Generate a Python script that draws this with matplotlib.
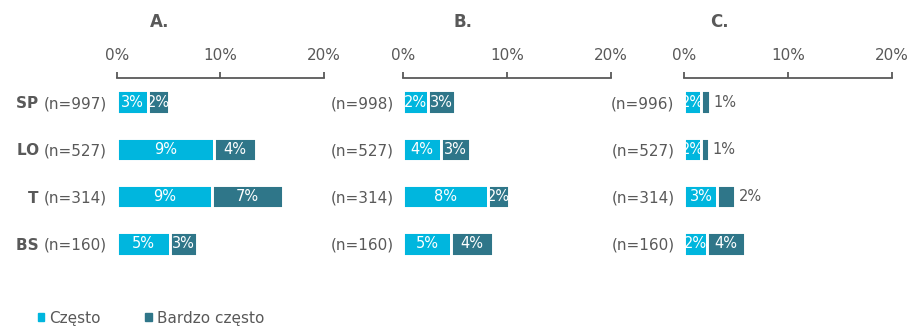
import matplotlib
matplotlib.use("Agg")

import matplotlib.pyplot as plt
from matplotlib.patches import Patch

# ── Data ─────────────────────────────────────────────────────────────────────
GROUPS   = ["SP", "LO", "T", "BS"]
PANELS   = ["A.", "B.", "C."]
N_A      = [997, 527, 314, 160]
N_B      = [998, 527, 314, 160]
N_C      = [996, 527, 314, 160]
OFTEN_A  = [3.0, 9.4, 9.2, 5.1]      # "Często"
OFTEN_B  = [2.4, 3.6, 8.2, 4.6]
OFTEN_C  = [1.6, 1.6, 3.2, 2.2]
VOFTEN_A = [2.0, 4.0, 6.8, 2.6]      # "Bardzo często"
VOFTEN_B = [2.6, 2.8, 2.0, 4.1]
VOFTEN_C = [0.9, 0.8, 1.7, 3.7]
XTICKS   = [0, 10, 20]
LEGEND   = ["Często", "Bardzo często"]

# ── Style ────────────────────────────────────────────────────────────────────
C_LIGHT = "#00B6DE"
C_DARK  = "#2F7689"
C_TEXT  = "#595959"
FONT    = "DejaVu Sans"
plt.rcParams["font.family"] = FONT

W, H = 912, 329
fig = plt.figure(figsize=(W / 100, H / 100), dpi=100)

ax_left = [116.7, 403.3, 684.3]
ax_w = 207.3
ax_top, ax_bot = 78, 268
title_x = [160, 463, 719]

data = [(N_A, OFTEN_A, VOFTEN_A), (N_B, OFTEN_B, VOFTEN_B), (N_C, OFTEN_C, VOFTEN_C)]
ypos = list(range(len(GROUPS)))

for p, (ns, often, voften) in enumerate(data):
    ax = fig.add_axes([ax_left[p] / W, 1 - ax_bot / H, ax_w / W, (ax_bot - ax_top) / H])
    b1 = ax.barh(ypos, often, height=0.5, color=C_LIGHT, edgecolor="white", linewidth=2.1)
    b2 = ax.barh(ypos, voften, left=often, height=0.5, color=C_DARK, edgecolor="white", linewidth=2.1)

    for i in ypos:
        t = ax.text(often[i] / 2, i, f"{round(often[i])}%", ha="center", va="center",
                    color="white", fontsize=10.5)
        t.set_clip_path(b1[i])
        # tiny dark segments get their label outside, in grey
        if voften[i] < 1.8:
            ax.text(often[i] + voften[i] + 0.35, i, f"{round(voften[i])}%", ha="left",
                    va="center", color=C_TEXT, fontsize=10.5)
        else:
            t = ax.text(often[i] + voften[i] / 2, i, f"{round(voften[i])}%", ha="center",
                        va="center", color="white", fontsize=10.5)
            t.set_clip_path(b2[i])

    ax.set_xlim(0, 20)
    ax.set_ylim(3.51, -0.51)
    ax.xaxis.tick_top()
    ax.set_xticks(XTICKS)
    ax.set_xticklabels([f"{v}%" for v in XTICKS], color=C_TEXT, fontsize=11)
    ax.tick_params(axis="x", direction="out", length=4, width=1.3, color=C_TEXT, pad=7)
    ax.set_yticks(ypos)
    ax.set_yticklabels([f"(n={n})" for n in ns], color=C_TEXT, fontsize=11)
    ax.tick_params(axis="y", length=0, pad=7)
    for s in ["bottom", "left", "right"]:
        ax.spines[s].set_visible(False)
    ax.spines["top"].set_color(C_TEXT)
    ax.spines["top"].set_linewidth(1.3)

    if p == 0:
        for lab, g in zip(ax.get_yticklabels(), GROUPS):
            ax.annotate(g + " ", xy=(0, 0.5), xycoords=lab, ha="right", va="center",
                        fontsize=11, fontweight="bold", color=C_TEXT)

    fig.text(title_x[p] / W, 1 - 22 / H, PANELS[p], ha="center", va="center",
             fontsize=12, fontweight="bold", color=C_TEXT)

handles = [Patch(color=C_LIGHT), Patch(color=C_DARK)]
fig.legend(handles, LEGEND, loc="lower left", bbox_to_anchor=(24 / W, -0.032), ncol=2,
           frameon=False, fontsize=11, handlelength=0.42, handleheight=0.42,
           handletextpad=0.35, columnspacing=2.9, labelcolor=C_TEXT)

fig.savefig("out.png", dpi=100)
plt.close(fig)
